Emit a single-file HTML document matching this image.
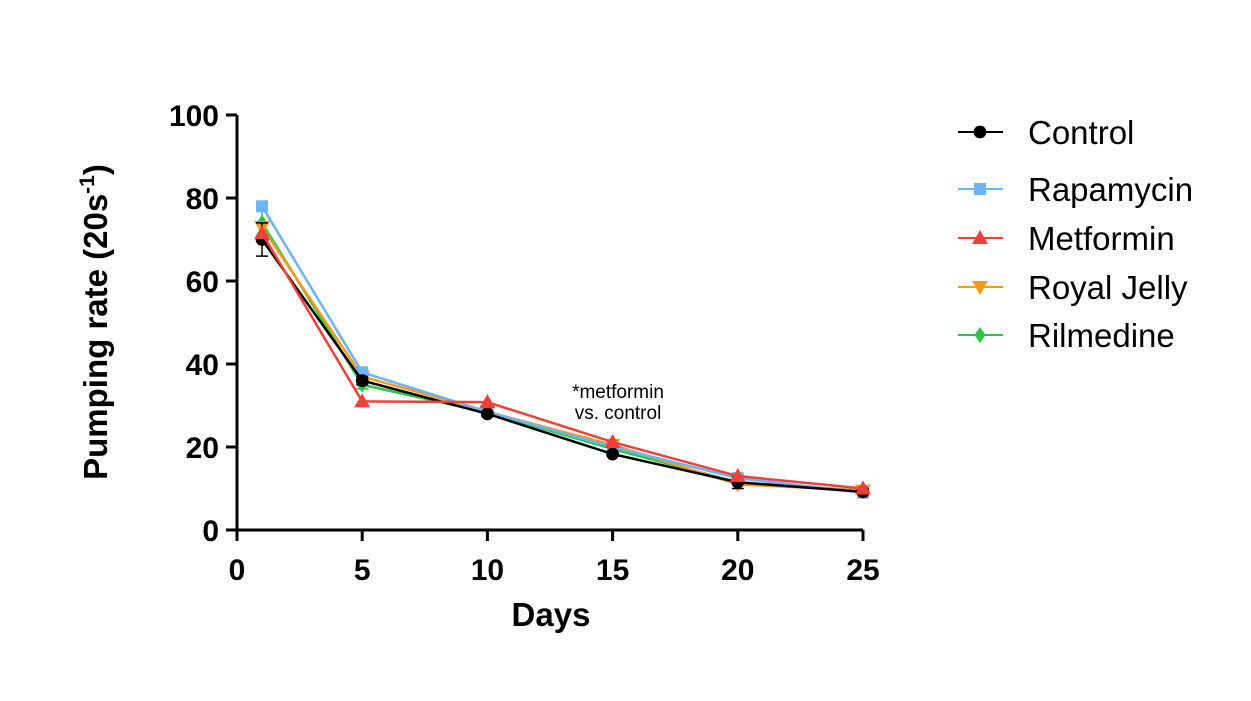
<!DOCTYPE html>
<html><head><meta charset="utf-8"><style>
body{margin:0;background:#fff}
svg{font-family:"Liberation Sans",Arial,sans-serif}
</style></head><body>
<svg id="chart" width="1251" height="696" viewBox="0 0 1251 696">
<g id="axes"></g><g id="series"></g><g id="legend"></g>
<text x="618" y="398" font-size="19" text-anchor="middle">*metformin</text>
<text x="618" y="419" font-size="19" text-anchor="middle">vs. control</text>
<text x="551" y="626" font-size="33" font-weight="bold" text-anchor="middle">Days</text>
<text transform="translate(107,322) rotate(-90)" font-size="33" font-weight="bold" text-anchor="middle">Pumping rate (20s<tspan font-size="21" dy="-13">-1</tspan><tspan dy="13">)</tspan></text>
</svg>
<script>
const days=[1,5,10,15,20,25];
const seriesNames=["Control","Rapamycin","Metformin","Royal Jelly","Rilmedine"];
const control=[70,36,28,18.3,11.5,9.2];
const rapamycin=[78,38,28.5,20,12.5,9];
const metformin=[71.5,31,30.8,21.2,13,10];
const royalJelly=[73,37,28.5,20.5,11,9.5];
const rilmedine=[74,35,28.3,19.5,11.5,9.5];
const controlErr=[4,1,0.5,0.5,1.5,0.5];
const rilmedineErr=[3,1,0.5,0.5,0.5,0.5];
const xTicks=[0,5,10,15,20,25];
const yTicks=[0,20,40,60,80,100];
const colors=["#000000","#6cb4f5","#f0403a","#f79a1e","#2ec44a"];
const markers=["circle","square","tri","tridown","diamond"];
const ns="http://www.w3.org/2000/svg";
const X=v=>237+v*25.04, Y=v=>530-v*4.15;
function mk(p,tag,attrs){const e=document.createElementNS(ns,tag);for(const k in attrs)e.setAttribute(k,attrs[k]);p.appendChild(e);return e;}
const ax=document.getElementById('axes');
let a=mk(ax,'line',{x1:X(0),x2:X(25),y1:530,y2:530,stroke:'#000','stroke-width':3});


a=mk(ax,'line',{x1:237,x2:237,y1:530,y2:Y(100),stroke:'#000','stroke-width':3});


xTicks.forEach(t=>{mk(ax,'line',{x1:X(t),x2:X(t),y1:530,y2:541,stroke:'#000','stroke-width':3});
 const tx=mk(ax,'text',{x:X(t),y:580,'font-size':30,'font-weight':'bold','text-anchor':'middle'});tx.textContent=t;
 
 });
yTicks.forEach(t=>{mk(ax,'line',{x1:226,x2:237,y1:Y(t),y2:Y(t),stroke:'#000','stroke-width':3});
 const tx=mk(ax,'text',{x:219,y:Y(t)+11,'font-size':30,'font-weight':'bold','text-anchor':'end'});tx.textContent=t;
 
 });
function marker(g,type,x,y,c,s){
 if(type==='circle')return mk(g,'circle',{cx:x,cy:y,r:s*0.8,fill:c});
 if(type==='square')return mk(g,'rect',{x:x-s*0.75,y:y-s*0.75,width:s*1.5,height:s*1.5,fill:c});
 if(type==='tri')return mk(g,'polygon',{points:`${x},${y-s} ${x-s},${y+s*0.75} ${x+s},${y+s*0.75}`,fill:c});
 if(type==='tridown')return mk(g,'polygon',{points:`${x},${y+s} ${x-s},${y-s*0.75} ${x+s},${y-s*0.75}`,fill:c});
 return mk(g,'polygon',{points:`${x},${y-s} ${x+s*0.7},${y} ${x},${y+s} ${x-s*0.7},${y}`,fill:c});
}
const sg=document.getElementById('series');
const data=[control,rapamycin,metformin,royalJelly,rilmedine];
const errs=[controlErr,null,null,null,rilmedineErr];
const order=[4,3,1,0,2];
order.forEach(i=>{
 const g=mk(sg,'g',{});
 
 
 if(errs[i])days.forEach((d,j)=>{const e=errs[i][j];const x=X(d);
  mk(g,'path',{d:`M${x},${Y(data[i][j]-e)}V${Y(data[i][j]+e)}M${x-6},${Y(data[i][j]-e)}h12M${x-6},${Y(data[i][j]+e)}h12`,stroke:colors[i],'stroke-width':1.5,fill:'none'});});
 mk(g,'polyline',{points:days.map((d,j)=>X(d)+','+Y(data[i][j])).join(' '),fill:'none',stroke:colors[i],'stroke-width':2.5});
 days.forEach((d,j)=>{const m=marker(g,markers[i],X(d),Y(data[i][j]),colors[i],8);
  
  });
});
const lg=document.getElementById('legend');
const ly=[132,189,238,287,335];
seriesNames.forEach((n,i)=>{
 const g=mk(lg,'g',{});
 
 
 mk(g,'line',{x1:958,x2:1003,y1:ly[i],y2:ly[i],stroke:colors[i],'stroke-width':2});
 marker(g,markers[i],980,ly[i],colors[i],8);
 const t=mk(g,'text',{x:1028,y:ly[i]+12,'font-size':33});t.textContent=n;
});
</script>
</body></html>
